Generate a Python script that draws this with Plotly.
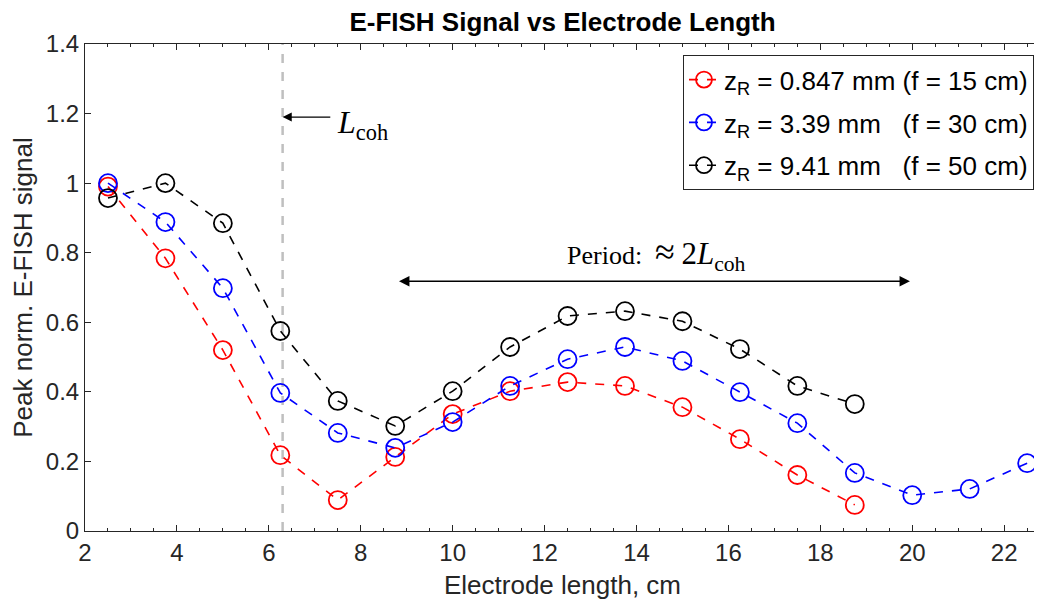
import plotly.graph_objects as go

electrode_length = [2.5, 3.75, 5, 6.25, 7.5, 8.75, 10, 11.25, 12.5, 13.75, 15, 16.25, 17.5, 18.75, 20, 21.25, 22.5]

red_vals = [0.99, 0.784, 0.52, 0.218, 0.089, 0.213, 0.336, 0.402, 0.428, 0.417, 0.356, 0.264, 0.161, 0.075]
blue_vals = [1.0, 0.888, 0.698, 0.397, 0.282, 0.239, 0.313, 0.417, 0.494, 0.529, 0.489, 0.399, 0.31, 0.167, 0.103, 0.121, 0.195]
black_vals = [0.957, 1.0, 0.885, 0.575, 0.374, 0.302, 0.402, 0.529, 0.618, 0.632, 0.603, 0.523, 0.417, 0.365]

series_names = [
    "z<sub>R</sub> = 0.847 mm (f = 15 cm)",
    "z<sub>R</sub> = 3.39 mm\u00a0\u00a0\u00a0(f = 30 cm)",
    "z<sub>R</sub> = 9.41 mm\u00a0\u00a0\u00a0(f = 50 cm)",
]
series_colors = ["#ff0000", "#0000ff", "#000000"]

L_coh = 6.3
period_start, period_end, period_y = 8.8, 19.95, 0.718

x_ticks = [2, 4, 6, 8, 10, 12, 14, 16, 18, 20, 22]
y_ticks = [0, 0.2, 0.4, 0.6, 0.8, 1, 1.2, 1.4]
y_tick_text = ["0", "0.2", "0.4", "0.6", "0.8", "1", "1.2", "1.4"]

FONT = "Liberation Sans, Arial, sans-serif"
SERIF = "Liberation Serif, Times New Roman, serif"
AX = "#262626"

fig = go.Figure()

fig.add_shape(type="line", x0=L_coh, x1=L_coh, y0=0, y1=1.4, xref="x", yref="y",
              line=dict(color="#bfbfbf", width=2.5, dash="dash"), layer="below")

for i, (vals, name, col) in enumerate(zip([red_vals, blue_vals, black_vals], series_names, series_colors)):
    fig.add_trace(go.Scatter(
        x=electrode_length[:len(vals)], y=vals, name=name, mode="lines+markers",
        legendgroup=f"g{i}",
        line=dict(color=col, width=1.6, dash="dash"),
        marker=dict(symbol="circle-open", size=18, color=col, line=dict(width=1.8, color=col)),
    ))

fig.add_annotation(x=L_coh, y=1.19, ax=7.37, ay=1.19, xref="x", yref="y", axref="x", ayref="y",
                   text="", showarrow=True, arrowhead=2, arrowsize=1.4, arrowwidth=1.3, arrowcolor="black")
fig.add_annotation(x=7.45, y=1.17, xref="x", yref="y", xanchor="left", yanchor="middle",
                   text="<i>L</i><sub>coh</sub>", showarrow=False,
                   font=dict(family=SERIF, size=32, color="black"))

fig.add_annotation(x=period_end, y=period_y, ax=period_start, ay=period_y, xref="x", yref="y",
                   axref="x", ayref="y", text="", showarrow=True, arrowhead=2, arrowside="end+start",
                   arrowsize=1.3, arrowwidth=1.6, arrowcolor="black")
fig.add_annotation(x=12.44, y=0.795, xref="x", yref="y", xanchor="left",
                   text=("Period:\u00a0\u00a0<span style='font-size:36px'>\u2248</span>\u00a0"
                         "<span style='font-size:31px'>2<i>L</i><sub>coh</sub></span>"),
                   showarrow=False, font=dict(family=SERIF, size=26, color="black"))

fig.update_layout(
    width=1034, height=593,
    margin=dict(l=77, r=2, t=36, b=70),
    paper_bgcolor="white", plot_bgcolor="white",
    font=dict(family=FONT, size=24, color=AX),
    title=dict(text="<b>E-FISH Signal vs Electrode Length</b>", x=0.5, xref="paper", xanchor="center",
               y=0.9764, yanchor="middle", font=dict(family=FONT, size=26, color="black")),
    showlegend=True,
    legend=dict(x=0.9937, y=0.977, xanchor="right", yanchor="top", bgcolor="white",
                bordercolor=AX, borderwidth=1, font=dict(family=FONT, size=26, color="black"),
                tracegroupgap=6, itemwidth=30),
    xaxis=dict(range=[2, 22.78], tickvals=x_ticks, ticks="inside", ticklen=6, tickcolor=AX,
               showline=True, linecolor=AX, linewidth=1, mirror="ticks", showgrid=False,
               zeroline=False, minor=dict(dtick=0.5, ticks="inside", ticklen=3, tickcolor=AX),
               title=dict(text="Electrode length, cm", standoff=11, font=dict(size=26)),
               tickfont=dict(size=24)),
    yaxis=dict(range=[0, 1.4], tickvals=y_ticks, ticktext=y_tick_text,
               ticks="inside", ticklen=6, tickcolor=AX, showline=True, linecolor=AX,
               linewidth=1, mirror="ticks", showgrid=False, zeroline=False,
               title=dict(text="Peak norm. E-FISH signal", standoff=6, font=dict(size=26)),
               tickfont=dict(size=24)),
)

fig.write_html("out.html")
